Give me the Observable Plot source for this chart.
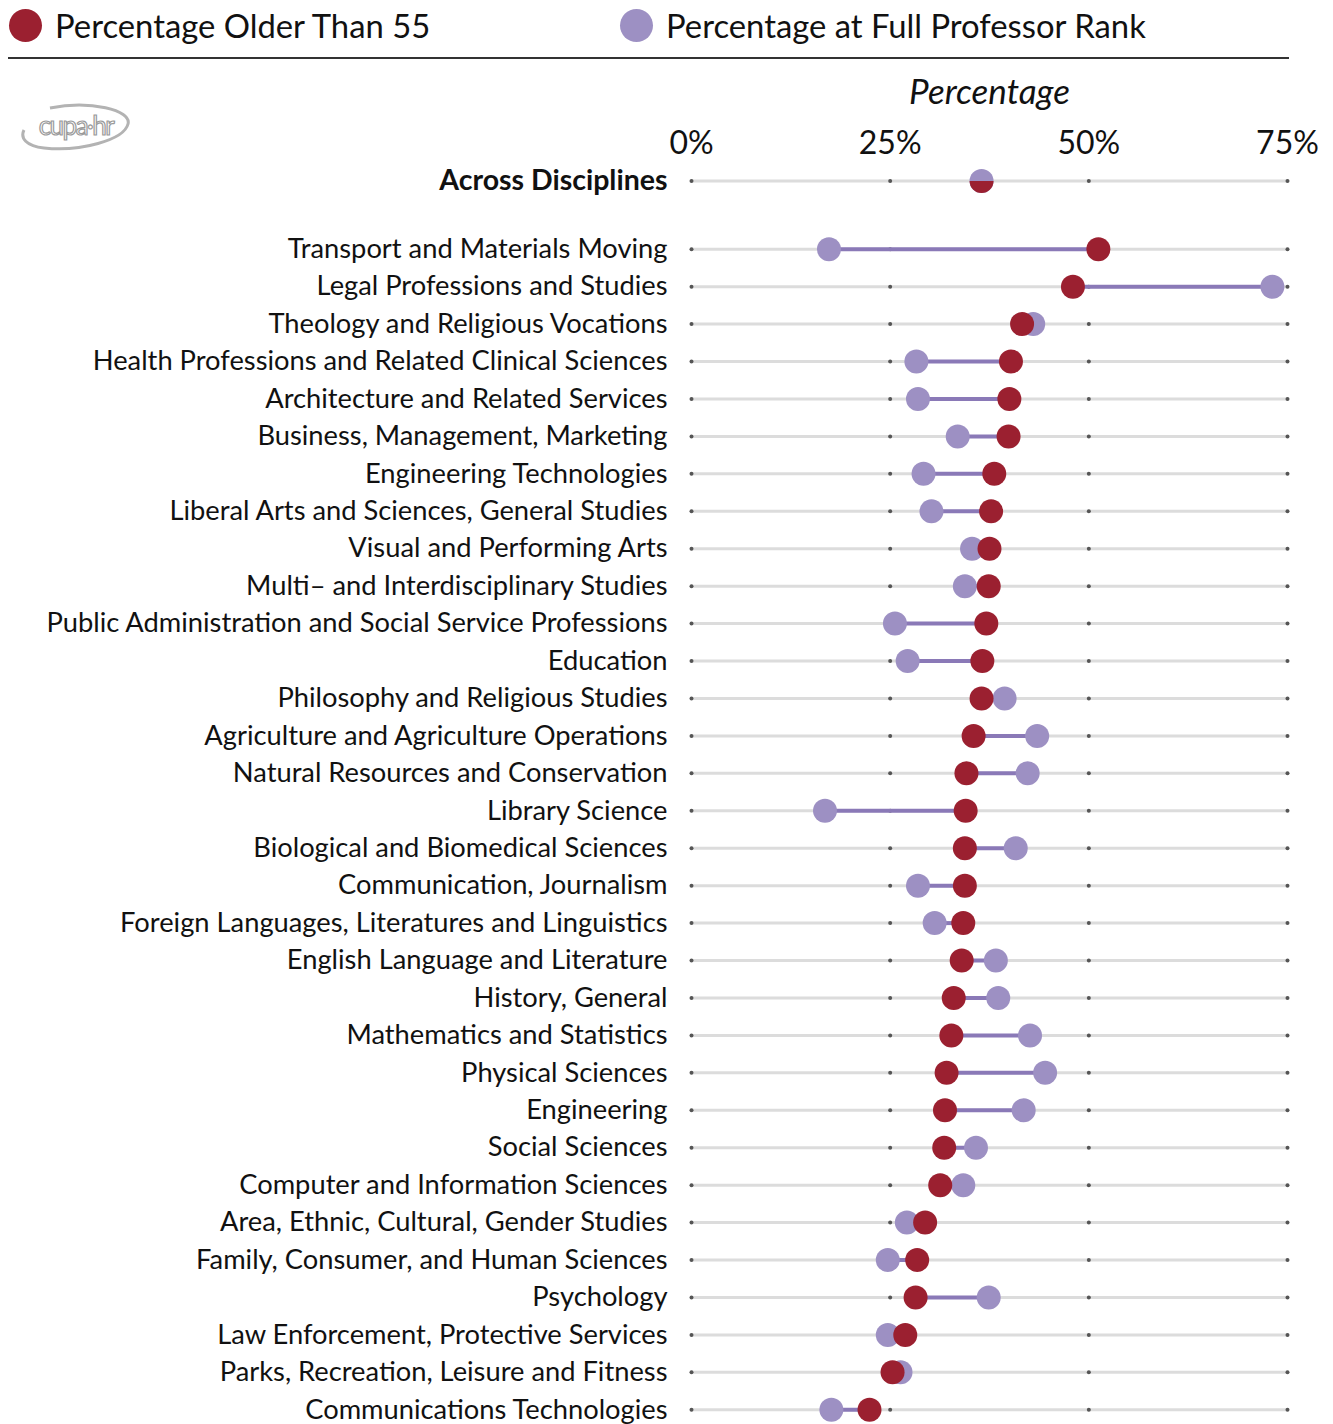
<!DOCTYPE html>
<html>
<head>
<meta charset="utf-8">
<script src="https://cdn.jsdelivr.net/npm/d3@7"></script>
<script src="https://cdn.jsdelivr.net/npm/@observablehq/plot@0.6"></script>
<style>
  body { margin: 0; background: #fff; font-family: Lato, "Noto Sans", sans-serif; }
  #wrap { position: relative; width: 1333px; height: 1424px; overflow: hidden; background: #fff; }
  .legend-item { position: absolute; top: 0; height: 50px; display: flex; align-items: center; font-size: 32.8px; color: #111; white-space: nowrap; }
  .sw { width: 33px; height: 33px; border-radius: 50%; margin-right: 13px; }
  #legend-line { position: absolute; left: 8px; top: 57px; width: 1281px; height: 2px; background: #333; }
  #logo { position: absolute; left: 20px; top: 102px; }
  #topPlot { position: absolute; left: 0; top: 60px; }
  #mainPlot { position: absolute; left: 0; top: 230px; }
  svg g[aria-label="x-axis label"] text { font-style: italic; font-size: 35px; }
</style>
</head>
<body>
<div id="wrap">
  <div class="legend-item" style="left:9px"><div class="sw" style="background:#9b2030"></div><span>Percentage Older Than 55</span></div>
  <div class="legend-item" style="left:620px"><div class="sw" style="background:#9d90c3"></div><span>Percentage at Full Professor Rank</span></div>
  <div id="legend-line"></div>
  <svg id="logo" width="115" height="55" viewBox="0 0 115 55">
    <path d="M 30 6 C 70 -2 112 8 108 22 C 104 38 60 50 24 46 C 6 44 0 36 4 28" fill="none" stroke="#b3b3b3" stroke-width="3"/>
    <text x="56" y="33" text-anchor="middle" font-family="Lato" font-size="26" fill="#fff" stroke="#9a9a9a" stroke-width="1.2" letter-spacing="-1.5">cupa·hr</text>
  </svg>
  <div id="topPlot"></div>
  <div id="mainPlot"></div>
</div>
<script>
// ---- data ----
const overallLabel = ["Across Disciplines"];
const overallOlder = [36.5];
const overallFull = [36.5];

const categories = [
  "Transport and Materials Moving",
  "Legal Professions and Studies",
  "Theology and Religious Vocations",
  "Health Professions and Related Clinical Sciences",
  "Architecture and Related Services",
  "Business, Management, Marketing",
  "Engineering Technologies",
  "Liberal Arts and Sciences, General Studies",
  "Visual and Performing Arts",
  "Multi\u2013 and Interdisciplinary Studies",
  "Public Administration and Social Service Professions",
  "Education",
  "Philosophy and Religious Studies",
  "Agriculture and Agriculture Operations",
  "Natural Resources and Conservation",
  "Library Science",
  "Biological and Biomedical Sciences",
  "Communication, Journalism",
  "Foreign Languages, Literatures and Linguistics",
  "English Language and Literature",
  "History, General",
  "Mathematics and Statistics",
  "Physical Sciences",
  "Engineering",
  "Social Sciences",
  "Computer and Information Sciences",
  "Area, Ethnic, Cultural, Gender Studies",
  "Family, Consumer, and Human Sciences",
  "Psychology",
  "Law Enforcement, Protective Services",
  "Parks, Recreation, Leisure and Fitness",
  "Communications Technologies"
];
const olderThan55 = [51.2, 48.0, 41.6, 40.2, 40.0, 39.9, 38.1, 37.7, 37.5, 37.4, 37.1, 36.6, 36.5, 35.5, 34.6, 34.5,
                     34.4, 34.4, 34.2, 34.0, 33.0, 32.7, 32.1, 31.9, 31.8, 31.3, 29.4, 28.4, 28.2, 26.9, 25.3, 22.4];
const fullProfessor = [17.3, 73.1, 43.0, 28.3, 28.5, 33.5, 29.2, 30.2, 35.3, 34.4, 25.6, 27.2, 39.4, 43.5, 42.3, 16.8,
                       40.8, 28.5, 30.6, 38.3, 38.6, 42.6, 44.5, 41.8, 35.8, 34.2, 27.1, 24.7, 37.4, 24.7, 26.3, 17.6];
const xTicks = [0, 25, 50, 75];

// ---- styles ----
const RED = "#9b2030", PURPLE = "#9d90c3", LINK = "#8a79b7", GRID = "#dcdcdc", TICKDOT = "#555";
const FONT = "Lato, 'Noto Sans', sans-serif";

const rows = categories.map((c, i) => ({cat: c, older: olderThan55[i], full: fullProfessor[i]}));
const overall = overallLabel.map((c, i) => ({cat: c, older: overallOlder[i], full: overallFull[i]}));

function layers(data) {
  const grid = data.flatMap(d => xTicks.map(t => ({cat: d.cat, t})));
  return [
    Plot.ruleY(data, {y: "cat", x1: () => xTicks[0], x2: () => xTicks[xTicks.length - 1], stroke: GRID, strokeWidth: 3}),
    Plot.dot(grid, {x: "t", y: "cat", r: 2, fill: TICKDOT}),
    Plot.ruleY(data, {y: "cat", x1: "older", x2: "full", stroke: LINK, strokeWidth: 4}),
    Plot.dot(data, {x: "full", y: "cat", r: 12, fill: PURPLE})
  ];
}

const lowerHalf = {
  draw(ctx, size) {
    const r = Math.sqrt(size / Math.PI);
    ctx.moveTo(r, 0);
    ctx.arc(0, 0, r, 0, Math.PI);
    ctx.closePath();
  }
};

const common = {
  width: 1333,
  marginLeft: 691,
  marginRight: 46,
  style: {fontFamily: FONT, fontSize: "27px", color: "#111", background: "transparent", overflow: "visible"}
};

const topChart = Plot.plot({
  ...common,
  height: 141,
  marginTop: 100,
  marginBottom: 0,
  x: {domain: [xTicks[0], xTicks[xTicks.length - 1]]},
  y: {type: "point", domain: overallLabel, padding: 0.5, round: false},
  marks: [
    Plot.axisX(xTicks, {anchor: "top", tickSize: 0, tickPadding: 7, tickFormat: d => d + "%", fontSize: 32,
      label: "Percentage", labelAnchor: "center", labelArrow: "none", labelOffset: 81}),
    Plot.axisY({tickSize: 0, tickPadding: 24, fontSize: 28.5, fontWeight: "bold", label: null}),
    ...layers(overall),
    Plot.dot(overall, {x: "older", y: "cat", r: 12, fill: RED, symbol: lowerHalf})
  ]
});
document.getElementById("topPlot").append(topChart);

const mainChart = Plot.plot({
  ...common,
  height: 1198,
  marginTop: 0,
  marginBottom: 0,
  x: {domain: [xTicks[0], xTicks[xTicks.length - 1]], axis: null},
  y: {type: "point", domain: categories, padding: 0.5, round: false},
  marks: [
    Plot.axisY({tickSize: 0, tickPadding: 24, fontSize: 27.3, label: null}),
    ...layers(rows),
    Plot.dot(rows, {x: "older", y: "cat", r: 12, fill: RED})
  ]
});
document.getElementById("mainPlot").append(mainChart);
</script>
</body>
</html>
